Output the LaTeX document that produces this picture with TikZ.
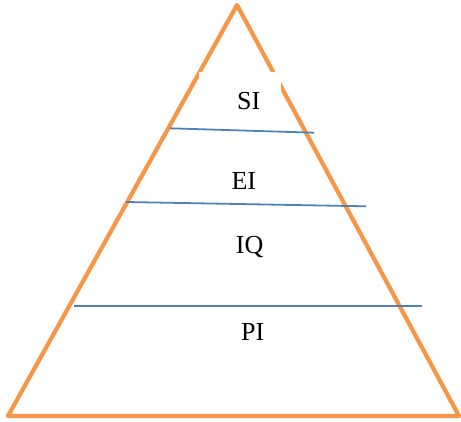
\documentclass[tikz,border=0pt]{standalone}
\usepackage{fontspec}
\setmainfont{Liberation Serif}
\usepackage{xcolor}
\definecolor{pyrorange}{HTML}{F79646}
\definecolor{pyrblue}{HTML}{4F81BD}
\begin{document}
\begin{tikzpicture}[
    x=1pt, y=-1pt,
    edge/.style={draw=pyrorange, line width=4.2pt, line join=round},
    divider/.style={draw=pyrblue, line width=1.8pt},
    level/.style={font=\fontsize{26}{30}\selectfont, inner sep=0pt, text depth=0pt}
]
\useasboundingbox (0,0) rectangle (461,422);

\coordinate (apex) at (237,5);
\coordinate (baseL) at (8,416);
\coordinate (baseR) at (459,416);
\draw[edge] (apex) -- (baseL) -- (baseR) -- cycle;

% white text box over the top label
\fill[white] (199,72) rectangle (281,114);

\coordinate (d1L) at (170,128.3);
\coordinate (d1R) at (314,132.7);
\coordinate (d2L) at (126,202);
\coordinate (d2R) at (366,206.3);
\coordinate (d3L) at (74,305.7);
\coordinate (d3R) at (422,305.7);
\draw[divider] (d1L) -- (d1R);
\draw[divider] (d2L) -- (d2R);
\draw[divider] (d3L) -- (d3R);

\node[level] (si) at (248.7,100.5) {SI};
\node[level] (ei) at (243.8,181) {EI};
\node[level] (iq) at (249.7,244.5) {IQ};
\node[level] (pi) at (252.8,332) {PI};
\end{tikzpicture}
\end{document}
